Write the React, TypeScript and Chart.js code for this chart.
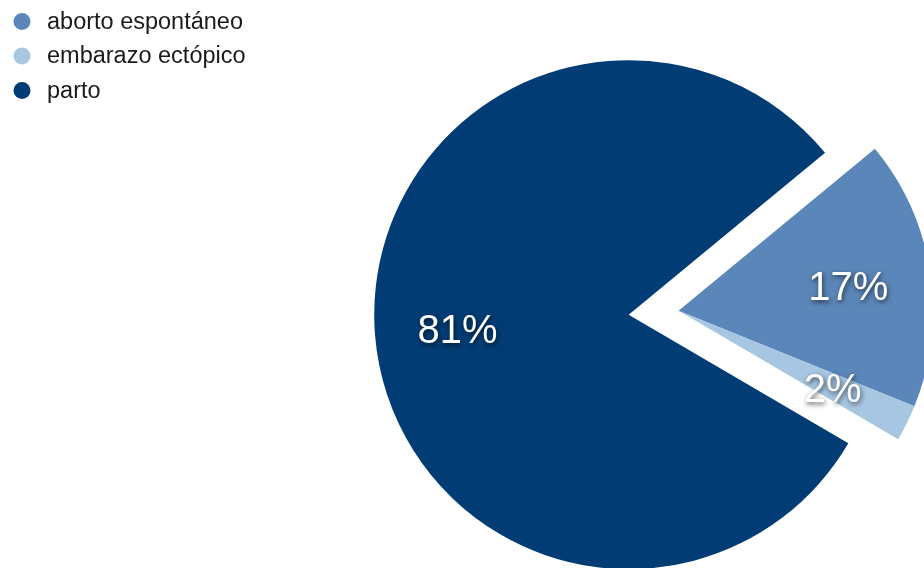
import React, { useEffect, useRef } from "react";
import { Chart, registerables } from "chart.js";

Chart.register(...registerables);

const categories = ["aborto espontáneo", "embarazo ectópico", "parto"];
const values = [17.1, 2.3, 80.6];
const colors = ["#5b86b9", "#a6c6e2", "#023c74"];
const explodedIndices = [0, 1];

const total = values.reduce((a, b) => a + b, 0);
const valueLabels = values.map((v) => Math.round((v / total) * 100) + "%");

const explodePlugin = {
  id: "explodeGroup",
  afterDatasetsUpdate(chart: any) {
    const meta = chart.getDatasetMeta(0);
    const els = meta.data;
    if (!els.length) return;
    const first = els[explodedIndices[0]];
    const last = els[explodedIndices[explodedIndices.length - 1]];
    const mid = (first.startAngle + last.endAngle) / 2;
    const dist = 50;
    const dx = Math.cos(mid) * dist;
    const dy = Math.sin(mid) * dist;
    explodedIndices.forEach((i) => {
      els[i].x += dx;
      els[i].y += dy;
    });
  },
};

const labelPlugin = {
  id: "sliceLabels",
  afterDatasetsDraw(chart: any) {
    const ctx = chart.ctx;
    const meta = chart.getDatasetMeta(0);
    ctx.save();
    ctx.font = '40px "Liberation Sans", Arial, sans-serif';
    ctx.textAlign = "center";
    ctx.textBaseline = "middle";
    ctx.fillStyle = "#ffffff";
    ctx.shadowColor = "rgba(0,0,0,0.65)";
    ctx.shadowBlur = 5;
    ctx.shadowOffsetX = 1;
    ctx.shadowOffsetY = 2;
    meta.data.forEach((el: any, i: number) => {
      const mid = (el.startAngle + el.endAngle) / 2;
      const r = el.outerRadius * 0.675;
      ctx.fillText(valueLabels[i], el.x + Math.cos(mid) * r, el.y + Math.sin(mid) * r + 4);
    });
    ctx.restore();
  },
};

const legendPlugin = {
  id: "customLegend",
  afterDraw(chart: any) {
    const ctx = chart.ctx;
    ctx.save();
    ctx.font = '23.5px "Liberation Sans", Arial, sans-serif';
    ctx.textBaseline = "middle";
    ctx.textAlign = "left";
    categories.forEach((c, i) => {
      const y = 21.5 + i * 34.5;
      ctx.beginPath();
      ctx.fillStyle = colors[i];
      ctx.arc(22, y, 8.5, 0, Math.PI * 2);
      ctx.fill();
      ctx.fillStyle = "#1a1a1a";
      ctx.fillText(c, 47, y + 1);
    });
    ctx.restore();
  },
};

export default function App() {
  const ref = useRef<HTMLCanvasElement>(null);
  useEffect(() => {
    if (!ref.current) return;
    const chart = new Chart(ref.current, {
      type: "pie",
      data: {
        labels: categories,
        datasets: [
          {
            data: values,
            backgroundColor: colors,
            borderWidth: 0,
            clip: false,
          } as any,
        ],
      },
      options: {
        animation: false,
        responsive: false,
        events: [],
        rotation: 50.5,
        radius: 254.5,
        layout: { padding: { left: 333.4, top: 61.4, right: 0, bottom: 0 } },
        plugins: {
          legend: { display: false },
          tooltip: { enabled: false },
        },
      } as any,
      plugins: [explodePlugin, labelPlugin, legendPlugin],
    });
    return () => chart.destroy();
  }, []);
  return (
    <div style={{ position: "fixed", left: 0, top: 0, width: 924, height: 568, background: "#fff" }}>
      <canvas ref={ref} width={924} height={568} />
    </div>
  );
}
